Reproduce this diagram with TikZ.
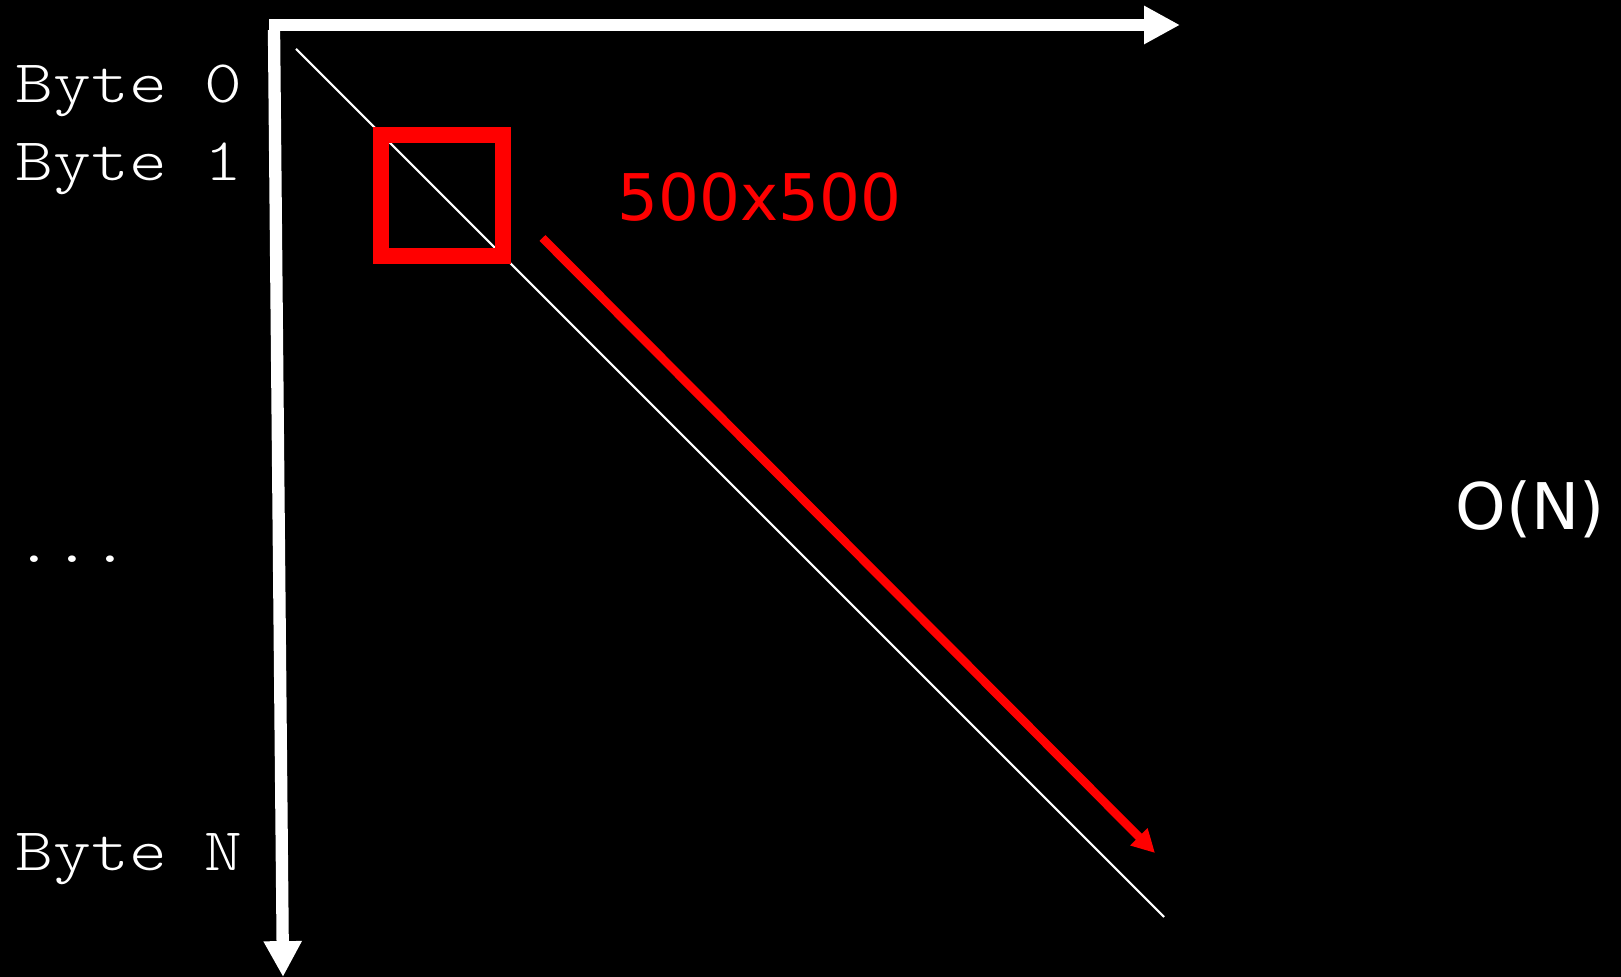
\documentclass[tikz,border=0pt]{standalone}
\usepackage{fontspec}
\setmainfont{DejaVu Sans}
\setmonofont[FakeStretch=1.19]{Latin Modern Mono Light}
\usepackage{tikz}
\usetikzlibrary{positioning,arrows.meta}
\definecolor{axis}{RGB}{255,255,255}
\definecolor{block}{RGB}{255,0,0}
\newcommand{\bytelabel}[1]{{\fontsize{17.2}{20}\selectfont\texttt{#1}}}

\begin{document}
\begin{tikzpicture}[x=0.01cm,y=-0.01cm,
    every node/.style={font=\fontsize{18.3}{21}\selectfont,inner sep=0pt}]
    \fill[black] (0,0) rectangle (1621,977);
    \useasboundingbox (0,0) rectangle (1621,977);
    % axes
    \coordinate (xstart) at (269,25);
    \coordinate (xend) at (1180,25);
    \coordinate (ystart) at (274,30);
    \coordinate (yend) at (283,977);
    \draw[-{Triangle[length=10.2pt,width=10.2pt]},line width=3.5pt,color=axis]
      (xstart) -- (xend);
    \draw[-{Triangle[length=10.2pt,width=10.2pt]},line width=3.5pt,color=axis]
      (ystart) -- (yend);
    % diagonal
    \coordinate (dstart) at (296,49);
    \coordinate (dend) at (1164,917);
    \draw[line width=0.6pt,color=axis] (dstart) -- (dend);
    % window on the diagonal
    \node[draw=block,line width=4.55pt,minimum width=1.22cm,minimum height=1.21cm]
      (window) at (442,195.5) {};
    \coordinate (sweepstart) at (542.5,238);
    \coordinate (sweepend) at (1155,853);
    \draw[-{Triangle[length=6.5pt,width=6.5pt]},line width=2.4pt,color=block]
      (sweepstart) -- (sweepend);
    \node[anchor=base west,text=block] (size) at (617,221) {500x500};
    \node[anchor=base west,text=axis] (cost) at (1455,530) {O(N)};
    % byte labels
    \node[anchor=base west,text=axis] (byte0) at (15,103) {\bytelabel{Byte 0}};
    \node[anchor=base west,text=axis] (byte1) at (15,181) {\bytelabel{Byte 1}};
    \node[anchor=base west,text=axis] (dots) at (15,563) {\bytelabel{...}};
    \node[anchor=base west,text=axis] (byteN) at (15,871) {\bytelabel{Byte N}};
  \end{tikzpicture}
\end{document}
